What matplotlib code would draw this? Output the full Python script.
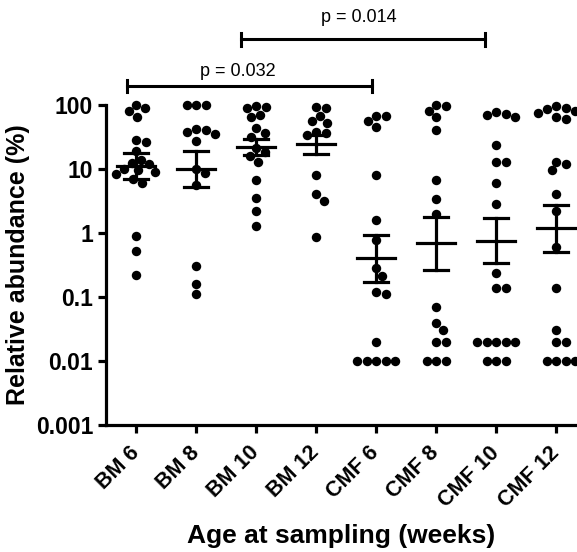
import numpy as np
import matplotlib
matplotlib.use('Agg')
import matplotlib.pyplot as plt

plt.rcParams['font.family'] = ['Liberation Sans', 'DejaVu Sans']

# Grupos (edad de muestreo)
grupos = ['BM 6', 'BM 8', 'BM 10', 'BM 12', 'CMF 6', 'CMF 8', 'CMF 10', 'CMF 12']

# Abundancia relativa (%) de cada animal
bm6 = [100, 89, 81, 66, 28, 26, 19, 14, 12.5, 12, 10, 9.5, 9, 8.5, 7, 6, 0.9, 0.52, 0.22]
bm8 = [100, 100, 100, 42, 40, 38, 35, 27, 10, 8.7, 5.6, 0.3, 0.16, 0.11]
bm10 = [96, 94, 90, 70, 65, 43, 36, 32, 21, 18.6, 15.9, 13, 6.8, 3.5, 2.2, 1.3]
bm12 = [92, 89, 67, 57, 53, 38, 36, 34, 8.1, 4, 3.2, 0.87]
cmf6 = [67, 67, 57, 46, 8.1, 1.6, 0.78, 0.28, 0.21, 0.12, 0.11, 0.02,
        0.01, 0.01, 0.01, 0.01, 0.01]
cmf8 = [100, 96, 81, 64, 41, 6.7, 3.4, 2.0, 0.069, 0.039, 0.03, 0.02, 0.02,
        0.01, 0.01, 0.01]
cmf10 = [79, 72, 70, 64, 24, 13, 13, 6, 2.8, 0.24, 0.14, 0.14,
         0.02, 0.02, 0.02, 0.02, 0.02, 0.01, 0.01, 0.01]
cmf12 = [95, 90, 88, 82, 75, 65, 60, 13, 12, 9.5, 4, 2.2, 0.6, 0.14, 0.03,
         0.02, 0.02, 0.01, 0.01, 0.01, 0.01]
datos = [bm6, bm8, bm10, bm12, cmf6, cmf8, cmf10, cmf12]

# Media geometrica y barras de error (SEM)
media = [11, 10, 22, 25, 0.40, 0.69, 0.76, 1.2]
err_sup = [17.8, 19, 29, 34, 0.93, 1.8, 1.7, 2.7]
err_inf = [7, 5.3, 16.5, 17, 0.17, 0.26, 0.34, 0.5]

fig = plt.figure(figsize=(5.77, 5.52), dpi=100)
ax = fig.add_axes([106 / 577, 127 / 552, 471 / 577, 320 / 552])
ax.set_yscale('log')
ax.set_ylim(0.001, 100)
ax.set_xlim(-0.5, 7.35)

# Colocar los puntos tipo "swarm" en pixeles para que no se encimen
fig.canvas.draw()
px_x = ax.transData.transform([(1, 1)])[0][0] - ax.transData.transform([(0, 1)])[0][0]
diam = 9.5
for i, vals in enumerate(datos):
    ypix = [ax.transData.transform([(0, v)])[0][1] for v in vals]
    puestos = []
    xs = []
    for yp in ypix:
        for k in range(200):
            off = (k + 1) // 2 * 0.5 * (1 if k % 2 else -1)
            if all((off - ox) ** 2 + (yp - oy) ** 2 >= diam ** 2 for ox, oy in puestos):
                break
        puestos.append((off, yp))
        xs.append(i + off / px_x)
    ax.plot(xs, vals, 'o', color='black', ms=6.8, mew=0, clip_on=False, zorder=3)

# Media y SEM
for i in range(len(grupos)):
    ax.plot([i - 0.32, i + 0.32], [media[i], media[i]], color='black', lw=2.3, zorder=4)
    ax.plot([i, i], [err_inf[i], err_sup[i]], color='black', lw=2.3, zorder=4)
    ax.plot([i - 0.2, i + 0.2], [err_sup[i], err_sup[i]], color='black', lw=2.3, zorder=4)
    ax.plot([i - 0.2, i + 0.2], [err_inf[i], err_inf[i]], color='black', lw=2.3, zorder=4)

# Comparaciones (p valores)
def corchete(x1, x2, y, texto, xt, yt):
    ax.plot([x1, x2], [y, y], color='black', lw=2.2, clip_on=False)
    for xx in (x1, x2):
        ax.plot([xx, xx], [y / 1.26, y * 1.26], color='black', lw=2.2, clip_on=False)
    ax.text(xt, yt, texto, ha='center', va='center', fontsize=13, clip_on=False)

corchete(-0.15, 3.93, 198, 'p = 0.032', 1.7, 330)
corchete(1.75, 5.82, 1070, 'p = 0.014', 3.72, 2290)

ax.spines['top'].set_visible(False)
ax.spines['right'].set_visible(False)
ax.spines['left'].set_linewidth(2.3)
ax.spines['bottom'].set_linewidth(2.3)
ax.tick_params(width=2.3, length=5.8, direction='out')
ax.tick_params(axis='x', pad=12)
ax.minorticks_off()

ax.set_yticks([0.001, 0.01, 0.1, 1, 10, 100])
ax.set_yticklabels(['0.001', '0.01', '0.1', '1', '10', '100'], fontsize=16.5, fontweight='bold')
ax.set_xticks(range(len(grupos)))
ax.set_xticklabels(grupos, rotation=45, ha='right', va='center', rotation_mode='anchor',
                   fontsize=15.5, fontweight='bold')

ax.set_ylabel('Relative abundance (%)', fontsize=18, fontweight='bold')
ax.set_xlabel('Age at sampling (weeks)', fontsize=19, fontweight='bold', labelpad=9)

fig.savefig('out.png', dpi=100)
